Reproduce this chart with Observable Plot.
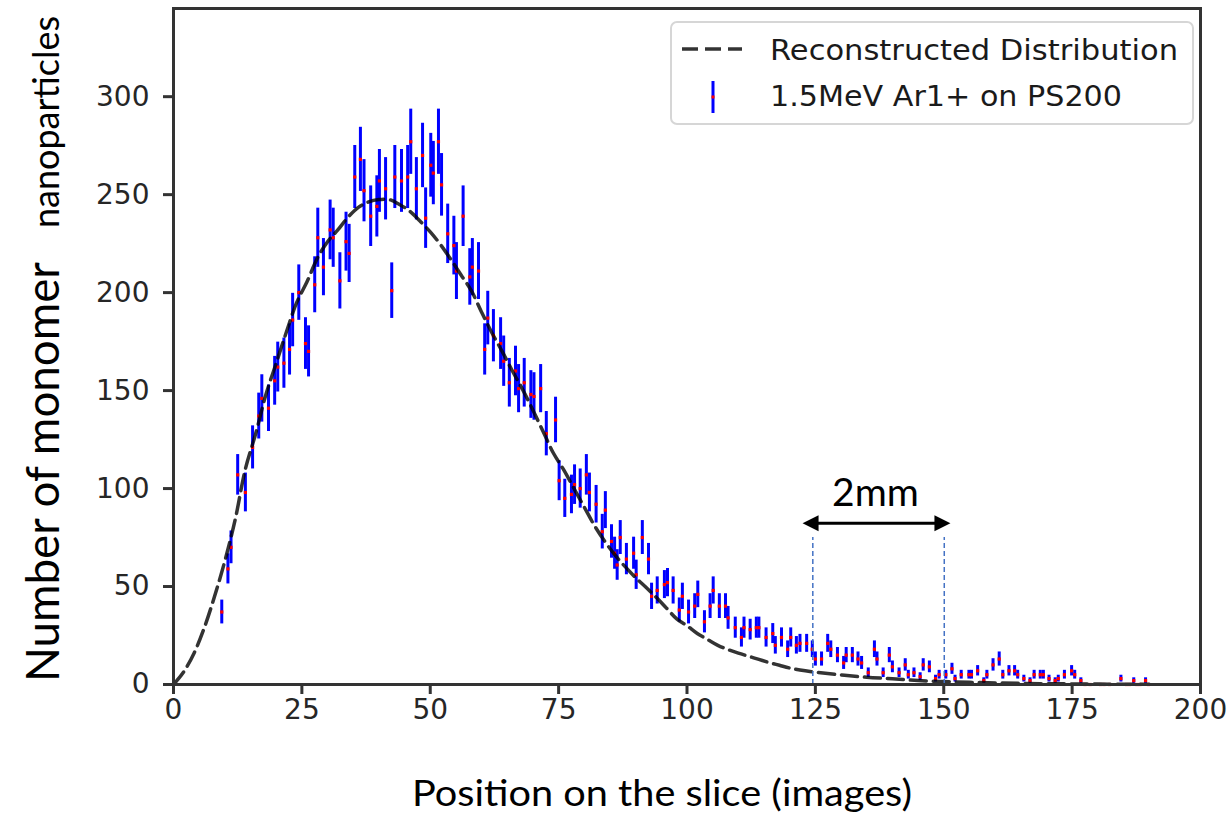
<!DOCTYPE html>
<html><head><meta charset="utf-8">
<script src="https://cdn.jsdelivr.net/npm/d3@7"></script>
<script src="https://cdn.jsdelivr.net/npm/@observablehq/plot@0.6"></script>
<style>body{margin:0;background:#fff} svg{display:block}</style>
</head><body><div id="chart"></div>
<script>
// Measured series: position on the slice (images) and number of monomer nanoparticles
const positions = [9.4,10.6,11.2,12.5,14.0,15.4,16.6,17.2,18.5,19.7,20.3,21.5,22.6,23.2,24.4,25.7,26.3,27.5,28.1,29.2,30.5,31.1,32.4,33.6,34.2,35.3,36.4,37.1,38.4,39.6,40.1,41.3,42.5,43.1,44.4,45.6,46.2,47.3,48.5,49.1,50.1,50.6,51.6,52.2,53.4,54.6,55.1,56.4,57.7,58.2,59.4,60.6,61.2,62.3,63.7,64.3,65.4,66.6,67.2,68.3,69.6,70.2,71.5,72.6,74.4,75.1,76.2,77.5,78.1,79.2,80.4,81.0,82.3,83.5,84.1,85.3,85.9,86.4,87.0,88.2,89.6,90.1,91.3,92.5,93.1,94.2,95.6,96.2,97.3,98.5,99.1,100.3,101.5,102.1,103.4,104.5,105.1,106.3,107.5,108.0,109.4,110.6,111.1,112.3,113.5,114.0,115.4,116.7,117.2,118.4,119.6,120.2,121.3,122.0,123.3,124.4,125.0,126.2,127.4,128.0,129.3,130.5,131.0,132.2,133.3,134.0,135.3,136.5,137.0,138.2,139.4,140.0,141.3,142.5,143.1,144.2,145.4,146.0,147.2,148.4,149.1,150.4,151.6,152.2,153.4,154.9,155.4,156.6,157.8,158.4,159.6,160.8,161.5,162.7,163.8,164.4,165.6,166.8,167.6,168.8,169.4,170.5,171.7,172.3,173.5,174.9,175.5,176.7,177.5,178.5,180.5,181.2,182.3,184.5,185.6,186.2,187.0,187.6,188.2,189.3,189.9];
const counts = [37,59,70,107,98,121,137,146,141,155,162,164,171,186,200,174,170,204,228,213,232,228,206,226,220,259,268,252,239,244,257,253,201,259,257,259,277,253,270,238,265,261,277,255,230,224,211,239,208,213,211,171,187,178,174,165,154,160,151,154,148,147,151,128,135,104,95,97,102,100,107,98,92,78,89,73,67,61,75,64,67,56,75,64,45,48,51,52,48,38,45,37,40,46,32,40,48,40,40,34,29,24,29,28,29,29,24,26,20,24,18,24,20,21,21,18,13,13,21,18,15,11,15,15,13,11,6,18,13,6,15,9,6,10,5,6,4,10,9,3,5,5,8,3,5,5,5,7,2,5,10,13,5,7,7,5,3,2,5,5,5,3,2,3,5,7,5,2,0,0,0,0,0,3,0,0,2,0,0,2,0];

// Reconstructed distribution
const curveX = [0,2,4,6,8,10,12,14,16,18,20,22,24,26,28,30,32,34,36,38,40,42,44,46,48,50,52,54,56,58,60,62,64,66,68,70,72,74,76,78,80,82,84,86,88,90,92,94,96,98,100,102,104,106,108,110,112,114,116,118,120,122,125,130,135,140,145,150,155,160,165,170,175,180,185,190];
const curveY = [0,6.5,16,29,45,63,84,110,128,148,164,180,195,205.5,217.5,226,232,238.5,243.5,246.3,247.5,247.5,245,241.6,236.5,231,224.5,217,209,201,190,179.5,170,160,150.5,140,129,118,109.5,100,90.5,81,73,66,60,54.5,49.6,44.5,39,33.5,30,26,23,20,17.8,16,14.4,12.8,11.2,9.8,8.4,7.4,6.3,4.9,3.7,2.9,2.0,1.5,1.1,0.8,0.6,0.4,0.3,0.2,0.1,0.1];

const xTicks = [0,25,50,75,100,125,150,175,200];
const yTicks = [0,50,100,150,200,250,300];
const seriesNames = ["Reconstructed Distribution", "1.5MeV Ar1+ on PS200"];
const xLabel = "Position on the slice (images)";
const yLabelMain = "Number of monomer";
const yLabelTail = "nanoparticles";

// 2 mm scale annotation (data coordinates)
const scaleBarX = [124.5, 150.1];
const scaleBarTop = 75;
const arrowX = [122.6, 151.4];
const arrowY = 82;
const scaleLabel = "2mm";
const scaleLabelPos = [136.8, 98];

const points = positions.map((x, i) => ({x, y: counts[i], err: Math.sqrt(counts[i])}));
const curve = curveX.map((x, i) => ({x, y: curveY[i]}));

const plot = Plot.plot({
  width: 1229, height: 817,
  marginLeft: 173, marginRight: 29, marginTop: 8, marginBottom: 133,
  x: {domain: [0, 200]},
  y: {domain: [0, 345]},
  style: {fontFamily: "DejaVu Sans", fontSize: "28px", background: "#fff", color: "#262626"},
  marks: [
    Plot.ruleX(points, {x: "x", y1: d => d.y - d.err, y2: d => d.y + d.err, stroke: "#0000ff", strokeWidth: 3}),
    Plot.dot(points, {x: "x", y: "y", r: 1.8, symbol: "square", fill: "#ff0000"}),
    Plot.line(curve, {x: "x", y: "y", stroke: "black", strokeOpacity: 0.8, strokeWidth: 3.5, strokeDasharray: "16,7", curve: "catmull-rom"}),
    Plot.ruleX(scaleBarX, {y1: 0, y2: scaleBarTop, stroke: "#4472c4", strokeWidth: 1.5, strokeDasharray: "5,3"}),
    Plot.frame({stroke: "#333", strokeWidth: 3}),
    Plot.axisX({ticks: xTicks, tickSize: 10, tickPadding: 5, stroke: "#333", strokeWidth: 3, fill: "#262626", label: null, fontSize: 28}),
    Plot.axisY({ticks: yTicks, tickSize: 10, tickPadding: 14, stroke: "#333", strokeWidth: 3, fill: "#262626", label: null, fontSize: 28})
  ]
});
document.getElementById("chart").appendChild(plot);

const sx = plot.scale("x"), sy = plot.scale("y");
const svg = d3.select(plot);

// Annotation: double arrow + label
const ax0 = sx.apply(arrowX[0]), ax1 = sx.apply(arrowX[1]), ay = sy.apply(arrowY);
const ann = svg.append("g");
ann.append("line").attr("x1", ax0 + 12).attr("x2", ax1 - 12).attr("y1", ay).attr("y2", ay)
  .attr("stroke", "black").attr("stroke-width", 3);
ann.append("path").attr("d", `M${ax0},${ay} L${ax0 + 16},${ay - 8} L${ax0 + 16},${ay + 8} Z`).attr("fill", "black");
ann.append("path").attr("d", `M${ax1},${ay} L${ax1 - 16},${ay - 8} L${ax1 - 16},${ay + 8} Z`).attr("fill", "black");
ann.append("text").attr("x", sx.apply(scaleLabelPos[0])).attr("y", sy.apply(scaleLabelPos[1]) + 14)
  .attr("text-anchor", "middle").attr("font-family", "Lato").attr("font-size", 39).attr("fill", "black")
  .text(scaleLabel);

// Axis labels
const lab = svg.append("g").attr("font-family", "Lato").attr("fill", "black").attr("text-anchor", "start");
lab.append("text").attr("text-anchor", "start").attr("transform", "translate(59,682) rotate(-90)").attr("font-size", 46)
  .attr("textLength", 420).attr("lengthAdjust", "spacingAndGlyphs").text(yLabelMain);
lab.append("text").attr("text-anchor", "start").attr("transform", "translate(59,228) rotate(-90)").attr("font-size", 36)
  .attr("textLength", 212).attr("lengthAdjust", "spacingAndGlyphs").text(yLabelTail);
lab.append("text").attr("text-anchor", "start").attr("x", 412).attr("y", 806).attr("font-size", 37)
  .attr("textLength", 500).attr("lengthAdjust", "spacingAndGlyphs").text(xLabel);

// Legend
const lg = svg.append("g").attr("font-family", "DejaVu Sans").attr("font-size", 29).attr("fill", "#1a1a1a").attr("text-anchor", "start");
lg.append("rect").attr("x", 671).attr("y", 22).attr("width", 522).attr("height", 102).attr("rx", 6)
  .attr("fill", "white").attr("fill-opacity", 0.8).attr("stroke", "#d6d6d6").attr("stroke-width", 2);
lg.append("line").attr("x1", 682).attr("x2", 742).attr("y1", 49).attr("y2", 49)
  .attr("stroke", "black").attr("stroke-opacity", 0.8).attr("stroke-width", 3.5).attr("stroke-dasharray", "16,7");
lg.append("text").attr("text-anchor", "start").attr("x", 770).attr("y", 60)
  .attr("textLength", 408).attr("lengthAdjust", "spacingAndGlyphs").text(seriesNames[0]);
lg.append("line").attr("x1", 713).attr("x2", 713).attr("y1", 81).attr("y2", 113)
  .attr("stroke", "#0000ff").attr("stroke-width", 3);
lg.append("rect").attr("x", 711.5).attr("y", 95.5).attr("width", 3).attr("height", 3).attr("fill", "#ff0000");
lg.append("text").attr("text-anchor", "start").attr("x", 770).attr("y", 106)
  .attr("textLength", 352).attr("lengthAdjust", "spacingAndGlyphs").text(seriesNames[1]);
</script>
</body></html>
